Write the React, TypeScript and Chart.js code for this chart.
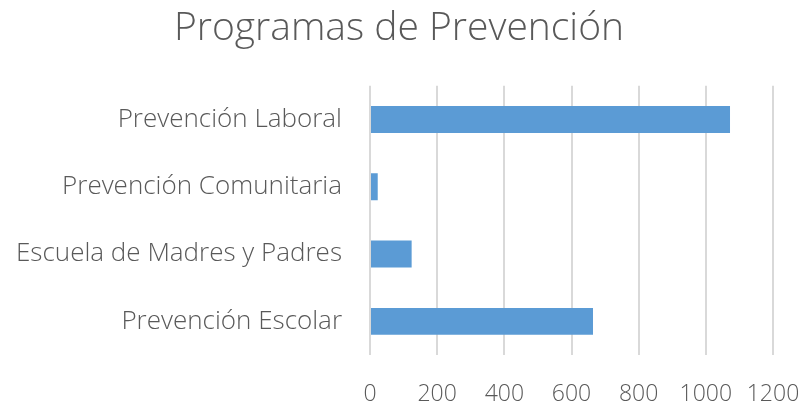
import React, { useEffect, useRef } from "react";
import { Chart, registerables } from "chart.js";

Chart.register(...registerables);

const chartTitle = "Programas de Prevención";
const categories = [
  "Prevención Laboral",
  "Prevención Comunitaria",
  "Escuela de Madres y Padres",
  "Prevención Escolar",
];
const values = [1072, 23, 124, 664];
const xMin = 0;
const xMax = 1200;
const xStep = 200;

const FONT = "'Open Sans', sans-serif";
const TEXT = "#595959";

export default function App() {
  const ref = useRef<HTMLCanvasElement | null>(null);

  useEffect(() => {
    document.body.style.margin = "0";
    const ctx = ref.current;
    if (!ctx) return;
    const chart = new Chart(ctx, {
      type: "bar",
      data: {
        labels: categories,
        datasets: [
          {
            label: chartTitle,
            data: values,
            backgroundColor: "#5b9bd5",
            borderWidth: 0,
            categoryPercentage: 1,
            barPercentage: 0.4,
          },
        ],
      },
      options: {
        indexAxis: "y",
        animation: false,
        responsive: false,
        maintainAspectRatio: false,
        layout: { padding: { top: 5, right: 0, left: 0, bottom: 0 } },
        plugins: {
          legend: { display: false },
          tooltip: { enabled: false },
          title: {
            display: true,
            text: chartTitle,
            color: TEXT,
            font: { family: FONT, size: 39, weight: "300" },
            padding: { top: 0, bottom: 34 },
          },
        },
        scales: {
          x: {
            min: xMin,
            max: xMax,
            afterBuildTicks: (s: any) => {
              s.ticks = [];
              for (let v = xMin; v <= xMax; v += xStep) s.ticks.push({ value: v });
            },
            ticks: {
              stepSize: xStep,
              color: TEXT,
              font: { family: FONT, size: 23, weight: "300" },
              padding: 26,
              maxRotation: 0,
              callback: (v: any) => String(v),
            },
            grid: { color: "#d9d9d9", lineWidth: 2, drawTicks: false },
            border: { display: false },
            afterFit: (s: any) => {
              s.height = 50;
              s.paddingRight = 25;
              s.paddingLeft = 0;
            },
          },
          y: {
            ticks: {
              color: TEXT,
              font: { family: FONT, size: 26, weight: "300" },
              padding: 28,
            },
            grid: { display: false, drawTicks: false },
            border: { display: false },
            afterFit: (s: any) => {
              s.width = 370;
            },
          },
        },
      },
    });
    return () => chart.destroy();
  }, []);

  return (
    <div style={{ width: 798, height: 405, background: "#fff" }}>
      <canvas ref={ref} width={798} height={405} style={{ display: "block" }} />
    </div>
  );
}
